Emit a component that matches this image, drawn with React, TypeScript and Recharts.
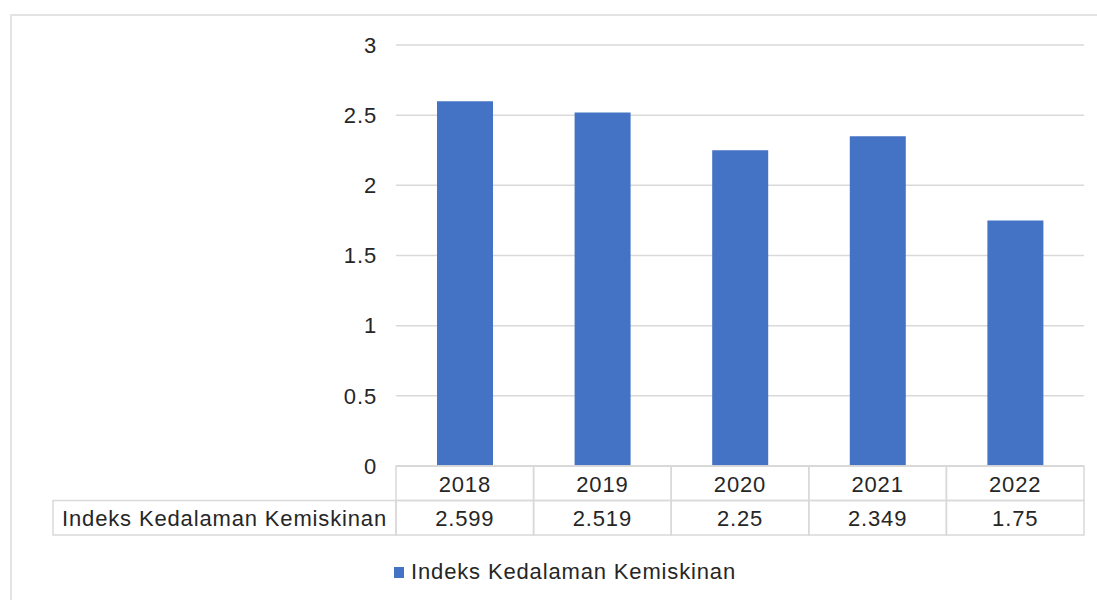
import React from 'react';
import { BarChart, Bar, XAxis, YAxis, CartesianGrid, Legend } from 'recharts';

const years = ['2018', '2019', '2020', '2021', '2022'];
const values = [2.599, 2.519, 2.25, 2.349, 1.75];
const valueLabels = ['2.599', '2.519', '2.25', '2.349', '1.75'];
const yTicks = [0, 0.5, 1, 1.5, 2, 2.5, 3];
const seriesName = 'Indeks Kedalaman Kemiskinan';

const data = years.map((y, i) => ({ year: y, value: values[i] }));

const W = 1097;
const H = 600;
const PLOT_LEFT = 396;
const PLOT_RIGHT = 1084;
const PLOT_TOP = 45;
const PLOT_BOTTOM = 466;
const Y_AXIS_W = 70;
const COL_W = (PLOT_RIGHT - PLOT_LEFT) / years.length;
const ROW_H = 34.5;
const LABEL_LEFT = 53;
const LINE = '#d9d9d9';
const TEXT = '#262626';
const FONT = '"Liberation Sans", Arial, sans-serif';
const FS = 22;
const LS = 0.85;
const BAR = '#4472C4';

function TableTick(props: any) {
  const { x, y, payload } = props;
  const i = years.indexOf(String(payload.value));
  const half = COL_W / 2;
  return (
    <g>
      <rect x={x - half} y={y} width={COL_W} height={ROW_H} fill="none" stroke={LINE} strokeWidth={1.5} />
      <rect x={x - half} y={y + ROW_H} width={COL_W} height={ROW_H} fill="none" stroke={LINE} strokeWidth={1.5} />
      <text x={x} y={y + ROW_H / 2 + 1} textAnchor="middle" dominantBaseline="central" fontSize={FS} fill={TEXT} fontFamily={FONT} letterSpacing={LS}>
        {payload.value}
      </text>
      <text x={x} y={y + ROW_H * 1.5 + 1} textAnchor="middle" dominantBaseline="central" fontSize={FS} fill={TEXT} fontFamily={FONT} letterSpacing={LS}>
        {valueLabels[i]}
      </text>
      {i === 0 && (
        <g>
          <rect x={LABEL_LEFT} y={y + ROW_H} width={x - half - LABEL_LEFT} height={ROW_H} fill="none" stroke={LINE} strokeWidth={1.5} />
          <text x={LABEL_LEFT + 9} y={y + ROW_H * 1.5 + 1} textAnchor="start" dominantBaseline="central" fontSize={FS} fill={TEXT} fontFamily={FONT} letterSpacing={LS}>
            {seriesName}
          </text>
        </g>
      )}
    </g>
  );
}

function LegendContent() {
  return (
    <div style={{ display: 'flex', alignItems: 'center', fontFamily: FONT, fontSize: FS, color: TEXT, letterSpacing: LS, whiteSpace: 'nowrap' }}>
      <span style={{ display: 'inline-block', width: 10, height: 11, background: BAR, marginRight: 7 }} />
      <span>{seriesName}</span>
    </div>
  );
}

export default function App() {
  return (
    <div style={{ position: 'absolute', left: 0, top: 0, width: W, height: H, background: '#fff', overflow: 'hidden' }}>
      <div style={{ position: 'absolute', left: 10, top: 14, right: -4, bottom: -4, borderLeft: `2px solid #e3e3e3`, borderTop: `2px solid #e3e3e3` }} />
      <div style={{ position: 'absolute', left: 0, top: 0 }}>
        <BarChart
          width={W}
          height={H}
          data={data}
          margin={{ top: PLOT_TOP, right: W - PLOT_RIGHT, bottom: H - PLOT_BOTTOM - ROW_H * 2, left: PLOT_LEFT - Y_AXIS_W }}
        >
          <CartesianGrid vertical={false} stroke={LINE} strokeWidth={1.5} />
          <YAxis
            width={Y_AXIS_W}
            domain={[0, 3]}
            ticks={yTicks}
            axisLine={false}
            tickLine={false}
            tickSize={0}
            tickMargin={19}
            tick={{ fontSize: FS, fill: TEXT, fontFamily: FONT, letterSpacing: LS }}
          />
          <XAxis
            dataKey="year"
            height={ROW_H * 2}
            interval={0}
            tickLine={false}
            tickSize={0}
            tickMargin={0}
            axisLine={{ stroke: LINE, strokeWidth: 1.5 }}
            tick={<TableTick />}
          />
          <Legend
            layout="horizontal"
            verticalAlign="middle"
            align="center"
            content={<LegendContent />}
            wrapperStyle={{ left: 394, top: 559, width: 420, height: 26 }}
          />
          <Bar dataKey="value" name={seriesName} fill={BAR} barSize={56} isAnimationActive={false} />
        </BarChart>
      </div>
    </div>
  );
}
